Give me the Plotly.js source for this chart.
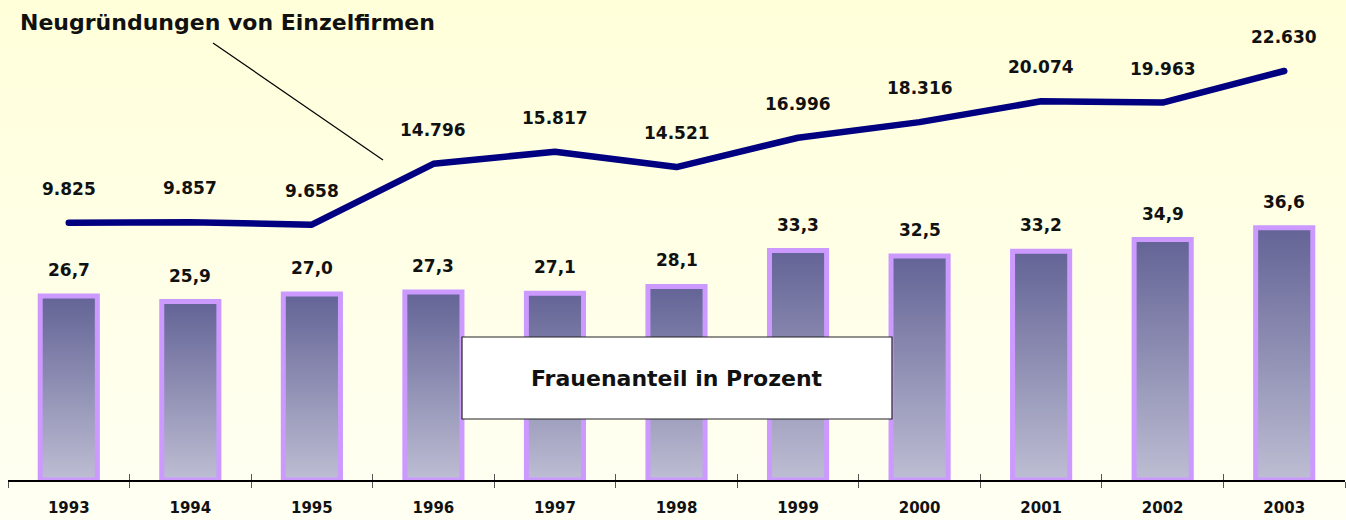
<!DOCTYPE html>
<html>
<head>
<meta charset="utf-8">
<script src="https://cdn.plot.ly/plotly-3.0.1.min.js"></script>
<style>
  html, body { margin: 0; padding: 0; }
  body { width: 1346px; height: 520px; background: linear-gradient(to bottom, #FFFFDA 0%, #FFFFE8 55%, #FFFFF3 100%); }
  #chart { width: 1346px; height: 520px; }
</style>
</head>
<body>
<div id="chart"></div>
<script>
const years = ['1993', '1994', '1995', '1996', '1997', '1998', '1999', '2000', '2001', '2002', '2003'];
const frauenanteil = [26.7, 25.9, 27.0, 27.3, 27.1, 28.1, 33.3, 32.5, 33.2, 34.9, 36.6];
const neugruendungen = [9825, 9857, 9658, 14796, 15817, 14521, 16996, 18316, 20074, 19963, 22630];
const lineTitle = 'Neugründungen von Einzelfirmen';
const barTitle = 'Frauenanteil in Prozent';

const FONT = 'DejaVu Sans, Verdana, sans-serif';
const W = 1346, H = 520, L = 8, R = 1, T = 20, B = 40;
const plotW = W - L - R, plotH = H - T - B;
const px = x => (x - L) / plotW;
const py = y => (H - B - y) / plotH;

const fmtPct = v => v.toFixed(1).replace('.', ',');
const fmtInt = v => String(v).replace(/\B(?=(\d{3})+(?!\d))/g, '.');

const bars = {
  type: 'bar', x: years, y: frauenanteil, xaxis: 'x', yaxis: 'y',
  marker: { color: '#9090B4', line: { color: '#CC99FF', width: 5 } },
  hoverinfo: 'skip'
};
const line = {
  type: 'scatter', mode: 'lines', x: years, y: neugruendungen, xaxis: 'x2', yaxis: 'y2',
  line: { color: '#000080', width: 6.5 },
  hoverinfo: 'skip'
};

const labelFont = { family: FONT, size: 17, color: '#111', weight: 'bold' };
const annotations = [];
years.forEach((yr, i) => {
  // category axes: annotation x is the category index
  annotations.push({ xref: 'x', yref: 'y', x: i, y: frauenanteil[i], text: fmtPct(frauenanteil[i]),
    showarrow: false, xanchor: 'center', yanchor: 'middle', yshift: 26, font: labelFont });
  annotations.push({ xref: 'x2', yref: 'y2', x: i, y: neugruendungen[i], text: fmtInt(neugruendungen[i]),
    showarrow: false, xanchor: 'center', yanchor: 'middle', yshift: 34, font: labelFont });
});
annotations.push({ xref: 'paper', yref: 'paper', x: px(677), y: py(378), text: barTitle, showarrow: false,
  xanchor: 'center', yanchor: 'middle', font: { family: FONT, size: 22, color: '#111', weight: 'bold' } });

const layout = {
  width: W, height: H, autosize: false,
  margin: { l: L, r: R, t: T, b: B, pad: 0 },
  paper_bgcolor: 'rgba(0,0,0,0)', plot_bgcolor: 'rgba(0,0,0,0)',
  showlegend: false, bargap: 0.53,
  title: { text: lineTitle, xref: 'container', yref: 'container', x: 20 / W, xanchor: 'left',
    y: 1 - 22 / H, yanchor: 'middle', font: { family: FONT, size: 22, color: '#111', weight: 'bold' } },
  xaxis: { type: 'category', range: [-0.5, 10.5], showline: true, linecolor: '#000', linewidth: 1.5,
    ticks: 'outside', tickson: 'boundaries', ticklen: 6, tickcolor: '#555', tickwidth: 1,
    ticklabelstandoff: 13, tickfont: { family: FONT, size: 15, color: '#111', weight: 'bold' },
    showgrid: false, zeroline: false, fixedrange: true },
  xaxis2: { type: 'category', overlaying: 'x', anchor: 'y2', side: 'bottom', range: [-0.5, 10.5],
    ticks: 'inside', tickson: 'boundaries', ticklen: 6, tickcolor: '#555', tickwidth: 1,
    showticklabels: false, showline: false, showgrid: false, zeroline: false, fixedrange: true },
  yaxis: { range: [0, plotH / 6.89], visible: false, fixedrange: true },
  yaxis2: { overlaying: 'y', side: 'right', range: [-11893, 26935], visible: false, fixedrange: true },
  annotations: annotations,
  shapes: [
    { type: 'line', xref: 'paper', yref: 'paper', x0: px(213), y0: py(43), x1: px(383), y1: py(160),
      line: { color: '#000', width: 1.2 } },
    { type: 'rect', xref: 'paper', yref: 'paper', x0: px(462), y0: py(337), x1: px(892), y1: py(419),
      fillcolor: '#FFFFFF', line: { color: '#222', width: 1.2 }, layer: 'above' }
  ]
};

const gd = document.getElementById('chart');
Plotly.newPlot(gd, [bars, line], layout, { staticPlot: true, displayModeBar: false }).then(() => {
  const ns = 'http://www.w3.org/2000/svg';
  const svg = gd.querySelector('svg.main-svg');
  let defs = svg.querySelector('defs');
  if (!defs) { defs = document.createElementNS(ns, 'defs'); svg.insertBefore(defs, svg.firstChild); }
  const lg = document.createElementNS(ns, 'linearGradient');
  lg.setAttribute('id', 'barGrad');
  lg.setAttribute('x1', '0'); lg.setAttribute('y1', '0'); lg.setAttribute('x2', '0'); lg.setAttribute('y2', '1');
  [['0%', '#636396'], ['100%', '#BDBDD3']].forEach(([o, c]) => {
    const s = document.createElementNS(ns, 'stop');
    s.setAttribute('offset', o); s.setAttribute('stop-color', c);
    lg.appendChild(s);
  });
  defs.appendChild(lg);
  gd.querySelectorAll('.barlayer .point path').forEach(p => { p.style.fill = 'url(#barGrad)'; });
  gd.querySelectorAll('.scatterlayer .js-line').forEach(p => {
    p.style.strokeLinecap = 'round'; p.style.strokeLinejoin = 'round';
  });
});
</script>
</body>
</html>
